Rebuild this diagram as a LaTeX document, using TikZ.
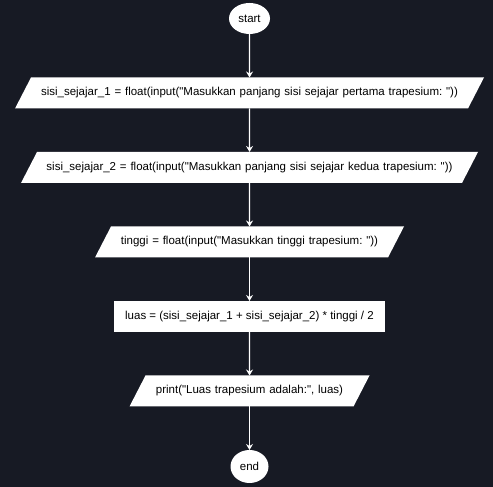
\documentclass[tikz,border=0pt]{standalone}
\usepackage{fontspec}
\setmainfont{Liberation Sans}
\usetikzlibrary{positioning,shapes.geometric,arrows.meta}
\definecolor{bgdark}{RGB}{23,26,36}
\frenchspacing

\begin{document}
\begin{tikzpicture}[x=1pt,y=1pt,
	font=\fontsize{11.5}{13}\selectfont,
	node distance=43.5pt,
	term/.style={ellipse,fill=white,inner sep=0pt,outer sep=0pt},
	io/.style={trapezium,trapezium left angle=62.7,trapezium right angle=117.3,
		fill=white,align=center,text height=8.5pt,text depth=2.5pt,
		inner xsep=0pt,inner ysep=10pt,outer sep=0pt},
	proc/.style={rectangle,fill=white,minimum height=31pt,inner sep=0pt,outer sep=0pt},
	flow/.style={draw=white,line width=1.2pt,-{Stealth[length=6pt,width=7pt,inset=2pt]}}]
	\fill[bgdark] (0,0) rectangle (493,487);
	\useasboundingbox (0,0) rectangle (493,487);
	%% langkah-langkah
	\node[term,minimum width=41pt,minimum height=31pt] (start) at (249.5,468.5) {start};
	\node[io,text width=437pt,below=of start] (in1)
		{sisi\_sejajar\_1 = float(input(\textquotedbl Masukkan panjang sisi sejajar pertama trapesium: \textquotedbl))};
	\node[io,text width=425pt,below=of in1] (in2)
		{sisi\_sejajar\_2 = float(input(\textquotedbl Masukkan panjang sisi sejajar kedua trapesium: \textquotedbl))};
	\node[io,text width=277pt,below=of in2] (in3)
		{tinggi = float(input(\textquotedbl Masukkan tinggi trapesium: \textquotedbl))};
	\node[proc,minimum width=271pt,below=of in3] (luas)
		{luas = (sisi\_sejajar\_1 + sisi\_sejajar\_2) * tinggi / 2};
	\node[io,text width=208pt,below=of luas] (out)
		{print(\textquotedbl Luas trapesium adalah:\textquotedbl, luas)};
	\node[term,minimum width=38pt,minimum height=33pt,below=of out] (end) {end};
	% panah antar langkah
	\draw[flow] (start) -- (in1);
	\draw[flow] (in1) -- (in2);
	\draw[flow] (in2) -- (in3);
	\draw[flow] (in3) -- (luas);
	\draw[flow] (luas) -- (out);
	\draw[flow] (out) -- (end);
\end{tikzpicture}
\end{document}
